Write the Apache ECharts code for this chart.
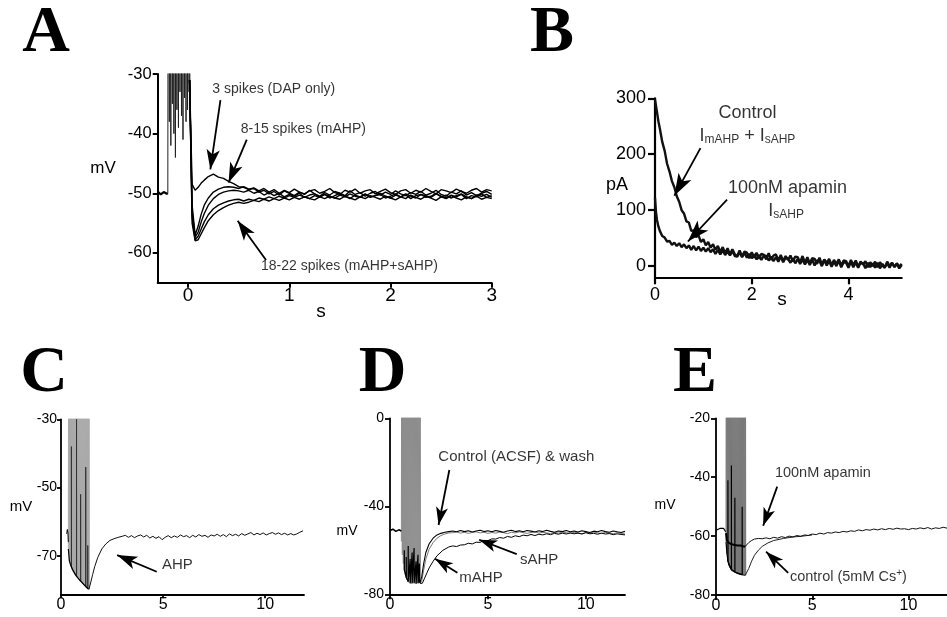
<!DOCTYPE html>
<html>
<head>
<meta charset="utf-8">
<script src="https://cdn.jsdelivr.net/npm/echarts@6/dist/echarts.min.js"></script>
<style>
  html, body { margin: 0; padding: 0; background: #fff; }
  #fig { width: 947px; height: 617px; }
</style>
</head>
<body>
<div id="fig"></div>
<script>
// ---- panel A: after-hyperpolarisations for different spike counts (mV vs s) ----
var aPreT = [-0.3, -0.27, -0.24, -0.21, -0.2];
var aPreV = [-49.7, -50.2, -49.8, -50.1, -50];
var aSpikeT = [-0.2, -0.185, -0.17, -0.155, -0.14, -0.125, -0.11, -0.095, -0.08, -0.065, -0.05, -0.035, -0.02, -0.005, 0.01];
var aSpikeLo = [-50, -38, -42, -35, -40, -44, -36, -39, -33, -37, -41, -34, -38, -36, -33];
var aHeadT = [0.015, 0.04, 0.07, 0.1, 0.13, 0.16, 0.2, 0.25, 0.3, 0.35, 0.4, 0.45, 0.5];
var aDapHead = [-31, -48.5, -49.5, -49.0, -48.3, -47.8, -47.2, -46.8, -47.3, -47.5, -48.0, -48.4, -48.9];
var aM1Head = [-31, -52, -57.0, -55.5, -53.5, -52.0, -50.8, -49.8, -49.3, -49.0, -48.9, -49.0, -49.2];
var aM2Head = [-31, -53, -57.4, -56.5, -54.8, -53.4, -52.0, -50.9, -50.2, -49.8, -49.6, -49.5, -49.6];
var aS1Head = [-31, -54, -57.8, -57.2, -56.0, -54.8, -53.6, -52.6, -52.0, -51.6, -51.3, -51.1, -51.0];
var aS2Head = [-31, -55, -58.0, -57.8, -56.8, -55.8, -54.6, -53.6, -52.9, -52.4, -52.0, -51.7, -51.5];
// tails sampled every 0.05 s from 0.55 s to 3.0 s
var aTailT0 = 0.55, aTailDt = 0.05;
var aDapTail = [-49.0, -49.4, -49.2, -49.8, -49.5, -50.1, -49.7, -50.3, -49.6, -50.0,
  -50.4, -49.8, -50.2, -49.5, -50.1, -50.5, -49.9, -50.3, -49.7, -50.0,
  -50.4, -49.6, -50.2, -49.9, -50.5, -50.0, -49.7, -50.3, -49.8, -50.2,
  -49.6, -50.1, -50.4, -49.9, -50.2, -49.7, -50.3, -50.0, -49.5, -50.2,
  -50.5, -49.8, -50.1, -49.6, -50.3, -49.9, -50.4, -50.0, -49.7, -50.2];
var aM1Tail = [-48.9, -49.3, -49.1, -49.6, -49.2, -49.8, -49.4, -50.0, -49.5, -49.9,
  -49.3, -49.8, -50.1, -49.6, -49.4, -50.0, -49.7, -49.2, -49.9, -50.2,
  -49.5, -49.8, -49.3, -50.0, -49.6, -49.4, -50.1, -49.7, -49.3, -49.9,
  -50.2, -49.6, -49.4, -50.0, -49.5, -49.8, -49.2, -49.7, -50.1, -49.4,
  -49.6, -49.9, -49.3, -49.7, -50.0, -49.5, -49.2, -49.8, -49.4, -49.6];
var aM2Tail = [-49.8, -49.5, -50.0, -49.7, -50.3, -49.9, -50.4, -50.0, -50.6, -50.2,
  -50.5, -50.0, -50.7, -50.3, -50.1, -50.6, -50.2, -50.8, -50.4, -50.0,
  -50.5, -50.9, -50.3, -50.6, -50.1, -50.7, -50.4, -50.2, -50.8, -50.5,
  -50.1, -50.6, -50.3, -50.9, -50.4, -50.2, -50.7, -50.5, -50.0, -50.6,
  -50.3, -50.8, -50.4, -50.1, -50.6, -50.9, -50.3, -50.5, -50.2, -50.7];
var aS1Tail = [-51.3, -51.0, -51.2, -50.8, -51.0, -50.6, -50.9, -50.5, -50.8, -50.4,
  -50.7, -50.3, -50.6, -50.9, -50.4, -50.7, -50.2, -50.5, -50.8, -50.3,
  -50.6, -50.1, -50.5, -50.7, -50.2, -50.6, -50.4, -50.0, -50.5, -50.8,
  -50.3, -50.6, -50.1, -50.5, -50.8, -50.2, -50.4, -50.7, -50.1, -50.5,
  -50.8, -50.3, -50.6, -50.2, -50.9, -50.4, -50.6, -50.1, -50.7, -50.4];
var aS2Tail = [-51.7, -51.5, -51.2, -51.4, -51.0, -51.3, -50.9, -51.2, -50.8, -51.1,
  -50.7, -51.0, -50.6, -50.9, -51.1, -50.6, -50.9, -50.5, -50.8, -51.0,
  -50.5, -50.8, -51.1, -50.6, -50.9, -50.4, -50.7, -51.0, -50.5, -50.8,
  -51.1, -50.6, -50.9, -50.3, -50.7, -51.0, -50.5, -50.8, -51.2, -50.6,
  -50.9, -50.4, -50.8, -51.1, -50.6, -50.9, -50.5, -51.0, -50.7, -50.9];

// ---- panel B: AHP currents (pA vs s) ----
var bHeadT = [0, 0.02, 0.04, 0.07];
var bTailT0 = 0.1, bTailDt = 0.05;   // 0.1 .. 5.1 s
var bCtlHead = [298, 287, 276, 259];
var bCtlTail = [246, 222, 206, 183, 169, 152, 141, 125, 115, 100,
  94, 80, 78, 63, 64, 52, 55, 43, 48, 37,
  43, 33, 39, 29, 36, 25, 34, 23, 32, 21,
  30, 21, 18, 28, 17, 26, 24, 14, 25, 15,
  24, 13, 22, 20, 12, 23, 11, 19, 21, 10,
  20, 9, 18, 11, 19, 8, 17, 16, 7, 18,
  6, 16, 5, 14, 13, 4, 15, 3, 12, 6,
  13, 2, 11, 4, 12, 1, 10, 9, 0, 11,
  2, 10, -1, 8, 3, 9, -2, 7, 0, 8,
  -2, 7, 1, -3, 8, 0, 6, -2, 5, -1,
  4];
var bApaHead = [122, 97, 83, 71];
var bApaTail = [63, 54, 51, 44, 45, 38, 42, 36, 41, 34,
  39, 32, 37, 29, 36, 28, 35, 27, 33, 26,
  32, 25, 30, 22, 29, 21, 28, 20, 26, 19,
  27, 18, 17, 25, 16, 24, 15, 22, 14, 21,
  12, 20, 11, 19, 18, 10, 17, 9, 16, 8,
  17, 7, 15, 13, 6, 14, 5, 13, 4, 12,
  3, 11, 2, 12, 1, 10, 9, 0, 11, 1,
  9, -1, 8, 0, 10, -2, 7, 6, -3, 8,
  -2, 7, -3, 6, 5, -4, 6, -2, 5, -3,
  6, -4, 4, -2, 5, -3, 6, -1, 4, -4,
  2];

// ---- panel C: AHP after a spike train (mV vs s) ----
var cPreT = [0.28, 0.31, 0.34, 0.36];
var cPreV = [-63.6, -62.3, -63.2, -66];
var cSpikeT = [0.36, 0.41, 0.46, 0.51, 0.56, 0.61, 0.66, 0.71, 0.76, 0.81, 0.86, 0.91, 0.96, 1.01, 1.06, 1.11, 1.16, 1.21, 1.26, 1.31, 1.36];
var cSpikeLo = [-68, -71.5, -72.5, -73.3, -74, -74.6, -75.1, -75.6, -76, -76.4, -76.8, -77.1, -77.4, -77.7, -78.1, -78.4, -78.7, -79, -79.3, -79.6, -79.8];
var cDarkT = [0.51, 0.76, 0.96, 1.21, 1.31];
var cDarkLo = [-73.3, -76, -77.4, -79, -79.6];
var cDarkHi = [-38, -30, -52, -44, -67];
var cRecT = [1.37, 1.45, 1.55, 1.65, 1.8, 2.0, 2.2, 2.4, 2.6, 2.8, 3.0];
var cRecV = [-79.8, -78, -75.5, -73.2, -70.5, -68, -66.5, -65.5, -65, -64.6, -64.3];
var cTailT0 = 3.15, cTailDt = 0.15;  // 3.15 .. 11.85 s
var cTail = [-64.0, -64.6, -64.1, -64.7, -64.2, -63.9, -64.5, -64.0, -64.8, -64.3,
  -64.9, -64.4, -65.3, -64.6, -64.1, -64.7, -64.2, -64.6, -63.9, -64.4,
  -64.1, -64.7, -64.0, -64.5, -63.8, -64.3, -64.0, -64.6, -63.9, -64.2,
  -63.7, -64.3, -63.8, -64.4, -63.6, -64.1, -63.7, -64.2, -63.5, -64.0,
  -63.6, -63.2, -63.9, -63.4, -63.8, -63.3, -63.9, -63.5, -63.2, -63.7,
  -63.3, -63.8, -63.4, -63.9, -63.5, -63.9, -63.6, -63.1, -62.7];

// ---- panel D: control / wash / apamin (mV vs s) ----
var dPreT = [0, 0.15, 0.3, 0.45, 0.58];
var dPreV = [-51, -50.4, -51.4, -50.7, -51.2];
var dSpikeT = [0.58, 0.63, 0.68, 0.73, 0.78, 0.83, 0.88, 0.93, 0.98, 1.03, 1.08, 1.13, 1.18, 1.23, 1.28, 1.33, 1.38, 1.43, 1.48, 1.53];
var dSpikeLo = [-56, -62, -66, -69, -71, -72.5, -73.5, -74.3, -74.8, -75, -75.2, -75, -74.8, -75.1, -74.9, -75.2, -74.7, -75, -74.6, -74.8];
var dDarkT = [0.73, 0.83, 0.93, 1.03, 1.13, 1.23, 1.33, 1.43, 1.5];
var dDarkLo = [-69, -72.5, -74.3, -75, -75, -74.8, -75.2, -75, -74.7];
var dDarkHi = [-60, -63, -58, -64, -61, -59, -65, -62, -66];
var dCtlT = [1.53, 1.62, 1.72, 1.83, 2.0, 2.2, 2.4, 2.6, 2.8, 3.0];
var dCtlV = [-74.8, -72, -66, -61, -57, -54.5, -53, -52.3, -51.8, -51.5];
var dWashV = [-75, -74, -69, -64, -59.5, -56.5, -54.5, -53.3, -52.6, -52.1];
var dApaT = [1.53, 1.65, 1.75, 1.9, 2.0, 2.2, 2.4, 2.7, 3.0];
var dApaV = [-75, -75, -73, -70, -68, -65, -62.5, -60, -58.5];
var dTailT0 = 3.2, dTailDt = 0.2;   // 3.2 .. 12.0 s
var dCtlTail = [-51.2, -51.6, -51.0, -51.5, -51.1, -51.7, -51.2, -50.9, -51.5, -51.1,
  -51.6, -51.0, -51.4, -51.8, -51.2, -50.9, -51.5, -51.1, -51.6, -51.0,
  -51.3, -51.7, -51.1, -51.5, -50.9, -51.4, -51.8, -51.2, -51.5, -51.0,
  -51.6, -51.2, -51.7, -51.1, -51.5, -51.9, -51.3, -51.6, -51.0, -51.5,
  -51.8, -51.2, -51.6, -51.9, -51.4];
var dWashTail = [-52.0, -51.7, -52.2, -51.8, -52.3, -51.9, -51.6, -52.1, -51.8, -52.3,
  -51.9, -52.2, -51.7, -52.0, -52.4, -51.8, -52.1, -51.6, -52.0, -52.3,
  -51.9, -51.6, -52.2, -51.8, -52.1, -52.4, -51.9, -52.2, -51.7, -52.0,
  -52.3, -51.8, -52.1, -52.5, -51.9, -52.2, -51.7, -52.1, -52.4, -51.9,
  -52.2, -52.5, -52.0, -52.3, -52.6];
var dApaTail = [-58.0, -58.3, -57.6, -57.5, -56.8, -57.1, -56.3, -56.4, -55.5, -55.6,
  -54.8, -54.9, -54.2, -54.5, -53.7, -54.1, -53.4, -53.8, -53.1, -53.4,
  -52.8, -53.3, -52.7, -53.0, -52.5, -52.9, -52.3, -52.7, -52.2, -52.6,
  -52.1, -52.5, -52.2, -52.6, -52.0, -52.5, -52.3, -52.7, -52.2, -52.6,
  -52.4, -52.9, -52.5, -52.8, -53.0];

// ---- panel E: control (5mM Cs+) / apamin (mV vs s) ----
var ePreT = [0, 0.1, 0.2, 0.3, 0.4, 0.5];
var ePreV = [-58, -57.8, -57.4, -57, -57.4, -58.5];
var eSpikeT = [0.52, 0.57, 0.62, 0.67, 0.72, 0.77, 0.82, 0.87, 0.92, 0.97, 1.02, 1.07, 1.12, 1.17, 1.22, 1.27, 1.32, 1.37, 1.42, 1.47, 1.52];
var eCtlLo = [-62, -66, -68.5, -69.8, -70.5, -71, -71.4, -71.7, -72, -72.2, -72.4, -72.5, -72.7, -72.8, -72.9, -73, -73.1, -73.1, -73.2, -73.2, -73.3];
var eApaLo = [-59, -61.5, -62, -62.3, -62.5, -62.6, -62.8, -62.7, -62.9, -63, -63.1, -63, -63.2, -63.1, -63.3, -63.2, -63.4, -63.3, -63.5, -63.4, -63.5];
var eDarkT = [0.62, 0.8, 0.98, 1.36];
var eDarkLo = [-68.5, -71.5, -72.2, -73.1];
var eDarkHi = [-41, -36, -47, -50];
var eApaT = [1.52, 1.6, 1.7, 1.85, 2.0, 2.2, 2.4];
var eApaV = [-63.5, -63, -62.2, -61.5, -61.0, -60.8, -60.9];
var eCtlT = [1.52, 1.6, 1.7, 1.85, 2.0, 2.2, 2.4, 2.7, 3.0, 3.5, 4.0, 4.5, 5.0];
var eCtlV = [-73.3, -73, -71, -68.5, -66.5, -64.8, -63.5, -62.3, -61.5, -60.8, -60.3, -60, -59.6];
var eTailT0 = 2.6, eTailDt = 0.2;   // 2.6 .. 12.0 s
var eApaTail = [-60.6, -60.9, -60.4, -60.7, -60.2, -60.5, -60.0, -60.3, -59.8, -60.1,
  -59.6, -59.8, -59.3, -59.5, -59.0, -59.3, -58.8, -59.0, -58.6, -58.8,
  -58.4, -58.6, -58.2, -58.4, -57.9, -58.2, -57.8, -58.0, -57.6, -57.9,
  -57.5, -57.8, -57.4, -57.7, -57.3, -57.6, -57.5, -57.8, -57.4, -57.6,
  -57.2, -57.5, -57.1, -57.6, -57.2, -57.4, -57.0, -57.3];

var spikePeak = 20;   // spikes overshoot the plotted range and get clipped

var SANS = "'Liberation Sans', Arial, sans-serif";
var SERIF = "'Liberation Serif', 'Times New Roman', serif";

function pairs(ts, vs) {
  return ts.map(function (t, i) { return [t, vs[i]]; });
}
function stepped(t0, dt, vs) {
  return vs.map(function (v, i) { return [Math.round((t0 + i * dt) * 1000) / 1000, v]; });
}
function joined() {
  var out = [];
  for (var i = 0; i < arguments.length; i++) out = out.concat(arguments[i]);
  return out;
}
// spike train: trough, then a nearly vertical stroke up to the (clipped) peak
function train(ts, lows, w) {
  var out = [];
  ts.forEach(function (t, i) { out.push([t, lows[i]], [t + w, spikePeak]); });
  out.push([ts[ts.length - 1] + 2 * w, lows[lows.length - 1]]);
  return out;
}
// partial spikes drawn darker
function bars(ts, lo, hi) {
  var out = [];
  ts.forEach(function (t, i) { out.push([t, lo[i]], [t, hi[i]], [t + 0.004, lo[i]]); });
  return out;
}

function trace(gi, data, color, width, z) {
  return {
    type: 'line', xAxisIndex: gi, yAxisIndex: gi, data: data,
    symbol: 'none', showSymbol: false, animation: false, silent: true, clip: true,
    z: z || 2, lineStyle: { color: color, width: width }
  };
}

var RICH = {
  i: { fontSize: 18, fontFamily: SANS, color: '#000', lineHeight: 20 },
  s: { fontSize: 12, fontFamily: SANS, color: '#000', lineHeight: 12, padding: [7, 0, 0, 0] },
  t: { fontSize: 14.5, fontFamily: SANS, color: '#000', lineHeight: 18 },
  sup: { fontSize: 10, fontFamily: SANS, color: '#000', lineHeight: 10, padding: [0, 0, 8, 0] }
};

function notes(gi, texts, arrows, fs, head) {
  return {
    type: 'scatter', xAxisIndex: gi, yAxisIndex: gi, symbolSize: 0, silent: true,
    animation: false, z: 5,
    data: texts.map(function (n) {
      return {
        value: [n[1], n[2]],
        label: {
          show: true, formatter: n[0], position: n[3] || 'right', distance: 0,
          color: '#000', fontSize: fs, fontFamily: SANS, rich: RICH
        }
      };
    }),
    markLine: {
      silent: true, animation: false, symbol: ['none', 'arrow'], symbolSize: head,
      lineStyle: { color: '#000', width: 1.8, type: 'solid' },
      label: { show: false }, emphasis: { disabled: true },
      data: arrows.map(function (a) { return [{ coord: [a[0], a[1]] }, { coord: [a[2], a[3]] }]; })
    }
  };
}

function axes(gi, o) {
  var line = { color: '#000', width: o.lw };
  var x = {
    gridIndex: gi, type: 'value', min: o.xmin, max: o.xmax,
    axisLine: { show: true, onZero: false, lineStyle: line },
    axisTick: { show: true, customValues: o.xt, length: o.tl, lineStyle: line },
    axisLabel: { customValues: o.xt, color: '#000', fontSize: o.xfs, fontFamily: SANS, margin: o.xm },
    splitLine: { show: false }
  };
  var y = {
    gridIndex: gi, type: 'value', min: o.ymin, max: o.ymax,
    axisLine: { show: true, onZero: false, lineStyle: line },
    axisTick: { show: true, customValues: o.yt, length: o.tl, lineStyle: line },
    axisLabel: { customValues: o.yt, color: '#000', fontSize: o.yfs, fontFamily: SANS, margin: o.ym },
    splitLine: { show: false }
  };
  return [x, y];
}

var grids = [
  { left: 157.7, top: 74, width: 334, height: 208.7 },
  { left: 655, top: 98.3, width: 246.7, height: 179 },
  { left: 61, top: 419.3, width: 243, height: 175 },
  { left: 390, top: 418.3, width: 235, height: 176 },
  { left: 716, top: 418.3, width: 231, height: 176.7 }
].map(function (g) { g.outerBoundsMode = 'none'; g.containLabel = false; return g; });

var axA = axes(0, { xmin: -0.3, xmax: 3, xt: [0, 1, 2, 3], ymin: -65, ymax: -30, yt: [-60, -50, -40, -30],
  lw: 2, tl: 5, xfs: 19, yfs: 16.5, xm: 4, ym: 6 });
var axB = axes(1, { xmin: 0, xmax: 5.1, xt: [0, 2, 4], ymin: -20, ymax: 300, yt: [0, 100, 200, 300],
  lw: 2.2, tl: 7, xfs: 18, yfs: 18, xm: 9, ym: 9 });
var axC = axes(2, { xmin: 0, xmax: 11.9, xt: [0, 5, 10], ymin: -81.3, ymax: -30, yt: [-70, -50, -30],
  lw: 1.8, tl: 4, xfs: 16, yfs: 14, xm: 2, ym: 4 });
var axD = axes(3, { xmin: 0, xmax: 12, xt: [0, 5, 10], ymin: -80, ymax: 0, yt: [-80, -40, 0],
  lw: 1.8, tl: 5, xfs: 16, yfs: 14, xm: 2, ym: 6 });
var axE = axes(4, { xmin: 0, xmax: 12, xt: [0, 5, 10], ymin: -80, ymax: -20, yt: [-80, -60, -40, -20],
  lw: 1.8, tl: 5, xfs: 16, yfs: 14, xm: 3, ym: 6 });

var series = [
  // A
  trace(0, pairs(aPreT, aPreV), '#000', 2.2),
  trace(0, train(aSpikeT, aSpikeLo, 0.004), '#222', 1),
  trace(0, joined(pairs(aHeadT, aS2Head), stepped(aTailT0, aTailDt, aS2Tail)), '#000', 1.4),
  trace(0, joined(pairs(aHeadT, aS1Head), stepped(aTailT0, aTailDt, aS1Tail)), '#000', 1.4),
  trace(0, joined(pairs(aHeadT, aM2Head), stepped(aTailT0, aTailDt, aM2Tail)), '#000', 1.4),
  trace(0, joined(pairs(aHeadT, aM1Head), stepped(aTailT0, aTailDt, aM1Tail)), '#000', 1.4),
  trace(0, joined(pairs(aHeadT, aDapHead), stepped(aTailT0, aTailDt, aDapTail)), '#000', 1.4),
  notes(0, [['3 spikes (DAP only)', 0.24, -32.6], ['8-15 spikes (mAHP)', 0.52, -39.3],
            ['18-22 spikes (mAHP+sAHP)', 0.72, -62.2]],
        [[0.32, -34.4, 0.22, -46.0], [0.58, -41, 0.4, -48.2], [0.77, -61.2, 0.49, -54.6]], 14, [10, 20]),
  // B
  trace(1, joined(pairs(bHeadT, bApaHead), stepped(bTailT0, bTailDt, bApaTail)), '#111', 2.4),
  trace(1, joined(pairs(bHeadT, bCtlHead), stepped(bTailT0, bTailDt, bCtlTail)), '#111', 2.4),
  notes(1, [['Control', 1.91, 273.4, 'inside'], ['{i|I}{s|mAHP}{i| + I}{s|sAHP}', 1.91, 233, 'inside'],
            ['100nM apamin', 2.74, 139.7, 'inside'], ['{i|I}{s|sAHP}', 2.71, 99, 'inside']],
        [[0.94, 211, 0.4, 126], [1.49, 118.9, 0.68, 44]], 18, [11, 22]),
  // C
  trace(2, pairs(cPreT, cPreV), '#000', 1),
  trace(2, train(cSpikeT, cSpikeLo, 0.012), '#a9a9a9', 1, 1),
  trace(2, bars(cDarkT, cDarkLo, cDarkHi), '#333', 1),
  trace(2, pairs(cSpikeT, cSpikeLo), '#000', 1.2),
  trace(2, joined(pairs(cRecT, cRecV), stepped(cTailT0, cTailDt, cTail)), '#111', 1),
  notes(2, [['AHP', 4.94, -72.7]], [[4.69, -74.7, 2.75, -69.8]], 15, [10, 20]),
  // D
  trace(3, pairs(dPreT, dPreV), '#000', 1.6),
  trace(3, train(dSpikeT, dSpikeLo, 0.012), '#8d8d8d', 1, 1),
  trace(3, bars(dDarkT, dDarkLo, dDarkHi), '#000', 1.2),
  trace(3, joined(pairs(dCtlT, dWashV), stepped(dTailT0, dTailDt, dWashTail)), '#777', 1),
  trace(3, joined(pairs(dApaT, dApaV), stepped(dTailT0, dTailDt, dApaTail)), '#000', 1),
  trace(3, joined(pairs(dCtlT, dCtlV), stepped(dTailT0, dTailDt, dCtlTail)), '#000', 1.1),
  notes(3, [['Control (ACSF) & wash', 2.47, -17.7], ['sAHP', 6.64, -64.4], ['mAHP', 3.54, -72.7]],
        [[3.03, -23.5, 2.48, -48.5], [6.47, -61.7, 4.55, -55.2], [3.44, -70.2, 2.3, -63.8]], 15, [9, 18]),
  // E
  trace(4, pairs(ePreT, ePreV), '#000', 1.2),
  trace(4, train(eSpikeT, eCtlLo, 0.012), '#7a7a7a', 1, 1),
  trace(4, bars(eDarkT, eDarkLo, eDarkHi), '#000', 1.2),
  trace(4, pairs(eSpikeT, eCtlLo), '#000', 1.2),
  trace(4, pairs(eSpikeT, eApaLo), '#000', 2),
  trace(4, pairs(eCtlT, eCtlV), '#222', 1),
  trace(4, joined(pairs(eApaT, eApaV), stepped(eTailT0, eTailDt, eApaTail)), '#111', 1),
  notes(4, [['100nM apamin', 3.06, -38.6], ['{t|control (5mM Cs}{sup|+}{t|)}', 3.84, -73.9]],
        [[3.18, -43.2, 2.45, -56.5], [3.75, -72.5, 2.6, -65.3]], 14.5, [9, 18])
];

// panel letters and axis titles: [text, centre x, centre y, font]
var letters = [['A', 46, 34], ['B', 552, 34], ['C', 44, 374], ['D', 382.5, 374], ['E', 695, 374]];
var axisTitles = [
  ['mV', 103, 168, 17], ['s', 321, 312, 19],
  ['pA', 617, 185, 18], ['s', 782, 300, 19],
  ['mV', 21, 507, 15], ['mV', 347, 531, 14], ['mV', 665, 505, 14]
];

var graphics = letters.map(function (l) {
  return {
    type: 'text', x: l[1], y: l[2], silent: true,
    style: { text: l[0], font: 'bold 66px ' + SERIF, fill: '#000', align: 'center', verticalAlign: 'middle' }
  };
}).concat(axisTitles.map(function (t) {
  return {
    type: 'text', x: t[1], y: t[2], silent: true,
    style: { text: t[0], font: t[3] + 'px ' + SANS, fill: '#000', align: 'center', verticalAlign: 'middle' }
  };
}));

var chart = echarts.init(document.getElementById('fig'), null, { renderer: 'canvas' });
chart.setOption({
  backgroundColor: '#fff',
  animation: false,
  grid: grids,
  xAxis: [axA[0], axB[0], axC[0], axD[0], axE[0]],
  yAxis: [axA[1], axB[1], axC[1], axD[1], axE[1]],
  series: series,
  graphic: graphics
});
</script>
</body>
</html>
